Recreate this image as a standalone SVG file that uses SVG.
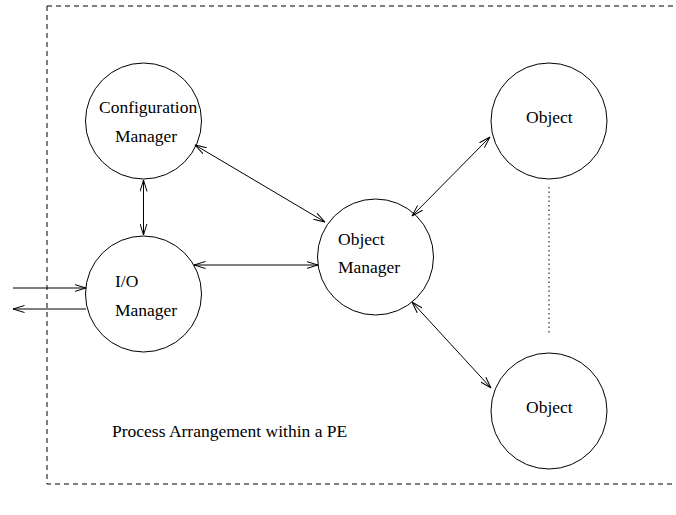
<svg xmlns="http://www.w3.org/2000/svg" width="676" height="515" viewBox="0 0 676 515">
<style>
.n{fill:none;stroke:#000;stroke-width:1}
.t{font-family:"Liberation Serif","Times New Roman",serif;font-size:17.5px;fill:#000}
.c{stroke:#000;stroke-width:1;fill:none}
</style>
<defs>
<marker id="ah" viewBox="0 0 12 8" refX="11.5" refY="4" markerWidth="12" markerHeight="8" markerUnits="userSpaceOnUse" orient="auto-start-reverse">
<path d="M0,0.5 L11.5,4 L0,7.5" fill="none" stroke="#000" stroke-width="1"/>
</marker>
</defs>
<rect width="676" height="515" fill="#fff"/>
<g id="frame">
<path d="M47,6 H676 M47,6 V484 H676" fill="none" stroke="#000" stroke-width="1" stroke-dasharray="5,4"/>
</g>
<g id="config-manager">
<circle class="n" cx="143.5" cy="121" r="58"/>
<text class="t" x="99" y="113">Configuration</text>
<text class="t" x="115" y="142">Manager</text>
</g>
<g id="io-manager">
<circle class="n" cx="143.5" cy="294" r="58"/>
<text class="t" x="115" y="287">I/O</text>
<text class="t" x="115" y="316">Manager</text>
</g>
<g id="object-manager">
<circle class="n" cx="375.5" cy="257" r="58"/>
<text class="t" x="338" y="245">Object</text>
<text class="t" x="338" y="273">Manager</text>
</g>
<g id="object-top">
<circle class="n" cx="549" cy="121" r="58"/>
<text class="t" x="526" y="123">Object</text>
</g>
<g id="object-bottom">
<circle class="n" cx="549" cy="411" r="58"/>
<text class="t" x="526" y="413">Object</text>
</g>
<g id="caption">
<text class="t" x="112" y="437">Process Arrangement within a PE</text>
</g>
<g id="connectors">
<line class="c" x1="143.5" y1="180" x2="143.5" y2="235" marker-start="url(#ah)" marker-end="url(#ah)"/>
<line class="c" x1="195" y1="145" x2="325" y2="222" marker-start="url(#ah)" marker-end="url(#ah)"/>
<line class="c" x1="194" y1="265" x2="318" y2="265" marker-start="url(#ah)" marker-end="url(#ah)"/>
<line class="c" x1="412" y1="216" x2="490" y2="137" marker-start="url(#ah)" marker-end="url(#ah)"/>
<line class="c" x1="412" y1="302" x2="491" y2="388" marker-start="url(#ah)" marker-end="url(#ah)"/>
<line class="c" x1="13" y1="288" x2="86" y2="288" marker-end="url(#ah)"/>
<line class="c" x1="86" y1="309" x2="13" y2="309" marker-end="url(#ah)"/>
<line x1="549" y1="187" x2="549" y2="335" stroke="#000" stroke-width="1" stroke-dasharray="1.5,3"/>
</g>
</svg>
